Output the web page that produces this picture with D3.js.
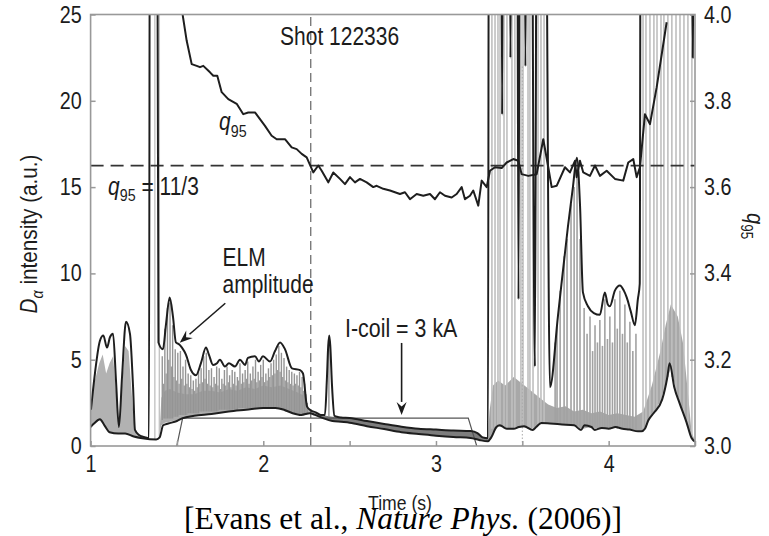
<!DOCTYPE html>
<html><head><meta charset="utf-8">
<script src="https://cdn.jsdelivr.net/npm/d3@7"></script>
<style>
body{margin:0;background:#fff;}
text{font-family:"Liberation Sans",Arial,sans-serif;fill:#1c1c1c;}
</style></head><body>
<svg id="c" width="769" height="536"></svg>
<script>
// ---- data (time in s, Dα in a.u., q95) ----
const xTicks = [1, 2, 3, 4];
const xMinorTicks = [1.5, 2.5, 3.5, 4.5];
const yTicks = [0, 5, 10, 15, 20, 25];
const qTicks = [3.0, 3.2, 3.4, 3.6, 3.8, 4.0];

// upper envelope of Dα ("ELM amplitude")
const envelope = [
 [1.002,2.1],[1.025,4.2],[1.054,6.1],[1.074,6.4],[1.095,5.7],[1.112,6.3],[1.130,6.5],[1.147,3.8],[1.164,1.1],
 [1.182,4.0],[1.205,7.2],[1.228,6.5],[1.246,3.4],[1.257,0.93],[1.280,0.64],[1.315,0.5],[1.338,0.45],
 [1.344,40],[1.384,40],[1.393,6.0],[1.419,5.6],[1.436,7.0],[1.458,8.6],[1.477,7.5],[1.494,6.0],[1.512,5.9],
 [1.529,5.7],[1.552,5.3],[1.581,4.4],[1.610,4.1],[1.639,4.8],[1.668,5.7],[1.685,5.3],[1.709,4.7],[1.732,4.8],
 [1.749,5.0],[1.778,4.6],[1.801,4.8],[1.836,4.6],[1.865,5.0],[1.894,4.7],[1.911,5.1],[1.952,5.2],[1.975,4.9],
 [1.998,5.2],[2.039,4.9],[2.068,5.5],[2.097,6.0],[2.126,5.6],[2.166,4.5],[2.213,4.4],[2.230,4.2],[2.253,2.3],
 [2.270,2.1],[2.304,1.95],[2.333,1.8],[2.357,1.8],[2.368,3.8],[2.376,5.8],[2.382,6.4],[2.388,5.8],[2.398,3.5],
 [2.412,1.75],[2.431,1.68],[2.45,1.65],[2.5,1.62],[2.6,1.45],[2.7,1.28],[2.8,1.12],[2.9,1.0],[3.0,0.95],
 [3.1,0.9],[3.2,0.87],[3.24,0.75],[3.27,0.5],[3.301,0.45],
 [3.307,40],[3.377,40],[3.383,19.2],[3.389,40],[3.424,40],[3.431,22.5],[3.440,40],[3.469,40],[3.478,8.5],
 [3.486,40],[3.510,40],[3.518,22],[3.527,40],[3.550,40],[3.573,4.6],[3.585,40],[3.631,40],[3.660,3.4],
 [3.706,7.5],[3.764,12.7],[3.793,15],[3.816,16.7],[3.834,14],[3.851,8.9],[3.880,8.1],[3.914,7.7],[3.949,7.6],
 [3.978,8.9],[3.995,8.2],[4.007,8.1],[4.036,9.0],[4.065,9.3],[4.088,9.0],[4.105,8.6],[4.128,7.8],[4.152,7.0],
 [4.169,8.5],[4.180,9.4],[4.186,40],[4.476,40],[4.487,22.5],[4.499,40]
];

// lower Dα baseline
const baseline = [
 [1.0,1.1],[1.02,1.3],[1.054,1.55],[1.08,1.2],[1.11,0.8],[1.16,0.72],[1.2,0.72],[1.25,0.55],[1.3,0.45],
 [1.38,0.38],[1.40,0.5],[1.42,1.2],[1.45,1.3],[1.5,1.45],[1.53,1.6],[1.6,1.75],[1.7,1.85],[1.8,2.0],
 [1.9,2.1],[2.0,2.2],[2.07,2.2],[2.12,2.1],[2.17,1.9],[2.22,1.8],[2.27,1.9],[2.3,1.8],[2.35,1.6],[2.4,1.45],
 [2.45,1.4],[2.5,1.35],[2.6,1.15],[2.7,0.98],[2.8,0.8],[2.9,0.7],[3.0,0.6],[3.1,0.52],[3.2,0.47],[3.25,0.35],
 [3.3,0.27],[3.32,0.5],[3.35,1.1],[3.37,1.2],[3.41,1.0],[3.45,1.0],[3.48,1.1],[3.51,1.15],[3.56,0.93],
 [3.58,1.1],[3.61,1.33],[3.66,1.3],[3.73,1.25],[3.80,1.2],[3.84,0.93],[3.86,1.2],[3.90,1.1],[3.92,0.93],
 [3.96,1.05],[4.00,1.0],[4.04,1.1],[4.08,1.0],[4.12,0.95],[4.17,0.85],[4.19,0.85],[4.21,1.0],[4.23,1.5],
 [4.26,1.9],[4.31,2.7],[4.34,4.0],[4.353,4.8],[4.38,3.4],[4.41,2.5],[4.45,1.4],[4.48,0.46],[4.50,0.25]
];

// dense gray ELM fill: [t, low, high]
const bandEarly = [
 [1.0,1.1,1.9],[1.02,1.3,3.6],[1.05,1.5,4.8],[1.07,1.3,5.3],[1.09,1.0,4.2],[1.11,0.8,4.8],[1.13,0.75,5.2],
 [1.15,0.75,2.8],[1.165,0.75,1.0],[1.18,0.75,3.2],[1.2,0.75,5.8],[1.22,0.7,5.5],[1.24,0.6,2.8],
 [1.255,0.5,0.9],[1.28,0.45,0.65],[1.33,0.4,0.5]
];
const bandMid = [
 [1.40,0.75,0.9],[1.41,1.2,2.8],[1.43,1.35,3.2],[1.46,1.4,3.3],[1.5,1.5,3.1],[1.55,1.6,3.0],[1.6,1.75,3.0],
 [1.65,1.8,3.2],[1.7,1.85,3.2],[1.75,1.95,3.1],[1.8,2.0,3.3],[1.85,2.05,3.2],[1.9,2.1,3.4],[1.95,2.15,3.3],
 [2.0,2.2,3.5],[2.05,2.2,3.4],[2.1,2.15,3.5],[2.15,2.0,3.3],[2.2,1.85,3.1],[2.24,1.8,2.9],[2.255,1.9,2.3],
 [2.27,1.9,2.1],[2.3,1.8,1.95]
];
const bandCoil = [
 [2.3,1.8,1.95],[2.333,1.65,1.8],[2.40,1.45,1.7],[2.45,1.4,1.65],[2.5,1.35,1.62],[2.6,1.15,1.45],
 [2.7,0.98,1.28],[2.8,0.8,1.12],[2.9,0.7,1.0],[3.0,0.6,0.95],[3.1,0.52,0.9],[3.2,0.47,0.87],
 [3.24,0.38,0.75],[3.27,0.3,0.5],[3.3,0.27,0.45]
];
const bandLate = [
 [3.30,0.3,0.4],[3.31,0.4,2.0],[3.33,0.7,3.5],[3.36,1.15,3.8],[3.40,1.05,3.5],[3.45,1.0,4.0],[3.50,1.1,3.6],
 [3.55,1.0,3.2],[3.60,1.25,2.8],[3.65,1.3,2.4],[3.70,1.28,2.2],[3.75,1.25,2.3],[3.80,1.2,2.0],[3.85,1.0,2.1],
 [3.90,1.1,1.9],[3.95,1.0,2.0],[4.00,1.0,1.8],[4.05,1.08,1.9],[4.10,0.98,1.8],[4.15,0.88,1.7],[4.20,0.9,2.0],
 [4.25,1.7,3.5],[4.30,2.6,5.5],[4.33,3.6,7.0],[4.36,4.5,8.2],[4.40,2.9,7.5],[4.43,1.9,6.0],[4.46,1.0,3.0],
 [4.48,0.5,0.8],[4.50,0.3,0.3]
];

// individual ELM spikes: [t, low, high]
const spikesEarly = [
 [1.372,0.4,40],[1.398,0.5,40],[1.415,1.5,5.2],[1.43,1.6,6.8],[1.445,1.6,8.0],[1.46,1.6,8.3],[1.475,1.6,7.0],
 [1.49,1.7,5.6],[1.505,1.7,5.4],[1.52,1.8,5.5],[1.535,1.8,4.6],[1.55,1.8,5.0],[1.565,1.9,4.2],[1.58,1.9,4.1],
 [1.595,1.9,3.8],[1.61,1.9,3.9],[1.625,1.9,4.3],[1.64,2.0,4.5],[1.655,2.0,5.2],[1.67,2.0,5.4],[1.685,2.0,4.4],
 [1.70,2.0,4.5],[1.715,2.0,4.0],[1.73,2.0,4.6],[1.745,2.1,4.5],[1.76,2.1,3.9],[1.775,2.1,4.4],[1.79,2.1,4.6],
 [1.805,2.1,4.1],[1.82,2.1,4.4],[1.835,2.1,4.3],[1.85,2.1,4.0],[1.865,2.2,4.8],[1.88,2.2,4.2],[1.895,2.2,4.4],
 [1.91,2.2,4.9],[1.925,2.2,4.2],[1.94,2.2,4.6],[1.955,2.2,5.0],[1.97,2.2,4.3],[1.985,2.2,4.7],[2.00,2.2,5.0],
 [2.015,2.2,4.2],[2.03,2.2,4.5],[2.045,2.2,4.8],[2.06,2.2,5.0],[2.075,2.2,5.3],[2.09,2.2,5.8],[2.105,2.1,5.4],
 [2.12,2.1,5.1],[2.135,2.0,4.6],[2.15,2.0,4.4],[2.165,1.9,4.3],[2.18,1.9,4.2],[2.195,1.9,4.1],[2.21,1.9,4.3],
 [2.225,1.8,4.0],[2.24,1.8,3.6],[2.255,1.9,2.5],[2.38,1.7,6.0]
];
const spikesEarlyMinor = [
 [1.4225,1.6,3.6],[1.4375,1.6,4.2],[1.4525,1.6,5.0],[1.4675,1.6,4.6],[1.4825,1.7,4.0],[1.4975,1.7,3.8],
 [1.5125,1.8,3.6],[1.5275,1.8,3.9],[1.5425,1.8,3.5],[1.5575,1.8,3.6],[1.5725,1.9,3.4],[1.5875,1.9,3.3],
 [1.6025,1.9,3.2],[1.6175,1.9,3.4],[1.6325,2.0,3.6],[1.6475,2.0,3.7],[1.6625,2.0,3.9],[1.6775,2.0,3.6],
 [1.6925,2.0,3.5],[1.7075,2.0,3.4],[1.7225,2.0,3.6],[1.7375,2.0,3.5],[1.7525,2.1,3.3],[1.7675,2.1,3.6],
 [1.7825,2.1,3.5],[1.7975,2.1,3.7],[1.8125,2.1,3.4],[1.8275,2.1,3.6],[1.8425,2.1,3.5],[1.8575,2.2,3.8],
 [1.8725,2.2,3.6],[1.8875,2.2,3.7],[1.9025,2.2,3.9],[1.9175,2.2,3.6],[1.9325,2.2,3.8],[1.9475,2.2,3.9],
 [1.9625,2.2,3.7],[1.9775,2.2,3.8],[1.9925,2.2,4.0],[2.0075,2.2,3.7],[2.0225,2.2,3.8],[2.0375,2.2,4.0],
 [2.0525,2.2,4.1],[2.0675,2.2,4.2],[2.0825,2.2,4.4],[2.0975,2.2,4.3],[2.1125,2.1,4.0],[2.1275,2.0,3.8],
 [2.1425,2.0,3.7],[2.1575,2.0,3.6],[2.1725,1.9,3.5],[2.1875,1.9,3.6],[2.2025,1.9,3.5],[2.2175,1.9,3.4],
 [2.2325,1.8,3.2],[2.2475,1.8,3.0]
];
const spikesLate = [
 [3.324,1.0,40],[3.342,1.1,40],[3.359,1.1,40],[3.371,1.1,40],[3.394,1.0,40],[3.411,1.0,40],[3.440,1.0,40],
 [3.457,1.0,40],[3.492,1.1,40],[3.504,1.1,40],[3.533,1.0,40],[3.544,1.0,40],[3.562,1.0,40],[3.591,1.2,40],
 [3.608,1.3,40],[3.626,1.3,40],
 [3.690,1.3,6.0],[3.701,1.3,7.0],[3.719,1.3,9.0],[3.742,1.3,11.0],[3.759,1.2,12.0],[3.782,1.2,14.0],
 [3.800,1.2,15.0],[3.817,1.2,16.0],[3.834,1.0,12.0],[3.858,1.2,8.0],[3.875,1.1,6.5],[3.892,1.1,7.5],
 [3.907,1.0,5.5],[3.921,1.0,7.0],[3.935,1.0,6.0],[3.949,1.0,7.3],[3.964,1.0,5.8],[3.978,1.0,8.5],
 [3.993,1.0,6.2],[4.007,1.0,7.5],[4.022,1.0,6.0],[4.036,1.1,8.5],[4.050,1.0,6.8],[4.065,1.0,9.0],
 [4.080,1.0,6.5],[4.094,1.0,8.2],[4.108,1.0,6.0],[4.123,1.0,7.2],[4.140,0.9,5.5],[4.158,0.9,6.5],
 [4.199,1.0,40],[4.216,1.2,40],[4.239,1.6,40],[4.262,1.9,40],[4.280,2.2,40],[4.303,2.6,40],[4.320,3.0,40],
 [4.343,4.0,40],[4.366,4.0,40],[4.390,3.0,40],[4.413,2.4,40],[4.436,1.8,40],[4.459,1.2,40],[4.482,0.5,40]
];

// I-coil current trace (drawn on Dα axis)
const icoil = [[1.499,0],[1.533,1.62],[3.187,1.62],[3.236,0]];

// q95 (right axis)
const q95 = [
 [1.525,4.02],[1.5565,3.939],[1.5854,3.885],[1.6144,3.881],[1.6335,3.878],[1.6526,3.881],[1.6914,3.866],
 [1.7105,3.858],[1.7336,3.858],[1.7591,3.820],[1.7973,3.804],[1.8460,3.793],[1.8842,3.769],[1.9131,3.773],
 [1.9519,3.773],[2.0098,3.742],[2.0486,3.719],[2.0776,3.711],[2.1256,3.711],[2.1644,3.692],[2.1934,3.688],
 [2.2224,3.677],[2.2513,3.669],[2.2895,3.634],[2.3185,3.650],[2.3382,3.638],[2.3764,3.611],[2.4053,3.634],
 [2.4441,3.619],[2.4731,3.607],[2.5020,3.623],[2.5310,3.611],[2.5599,3.619],[2.5987,3.611],[2.6369,3.600],
 [2.6566,3.603],[2.6948,3.596],[2.7336,3.592],[2.7915,3.584],[2.8205,3.588],[2.8494,3.572],[2.8882,3.584],
 [2.9264,3.580],[2.9653,3.584],[2.9942,3.572],[3.0232,3.588],[3.0521,3.580],[3.0909,3.576],[3.1198,3.584],
 [3.1488,3.600],[3.1679,3.572],[3.1969,3.580],[3.2160,3.592],[3.2450,3.557],[3.2646,3.615],[3.2936,3.600],
 [3.3127,3.638],[3.3416,3.646],[3.3804,3.644],[3.4094,3.657],[3.4476,3.665],[3.4766,3.661],[3.4962,3.630],
 [3.5344,3.626],[3.5831,3.630],[3.6213,3.711],[3.6503,3.646],[3.6700,3.600],[3.6989,3.603],[3.7470,3.646],
 [3.7759,3.634],[3.8049,3.661],[3.8147,3.623],[3.8338,3.661],[3.8529,3.634],[3.8917,3.626],[3.9207,3.650],
 [3.9496,3.626],[3.9884,3.638],[4.0365,3.619],[4.0845,3.615],[4.1135,3.657],[4.1425,3.665],[4.1621,3.623],
 [4.1813,3.646],[4.2102,3.769],[4.2392,3.746],[4.2779,3.831],[4.3358,3.982]
];

const qRef = 3.65;          // q95 = 11/3 reference line
const tMarker = 2.275;      // vertical dashed marker
const tDotted = 3.5;

// annotations in data coordinates (t, Dα)
const labels = {
  shot: [2.097, 23.23, "Shot 122336"],
  elm1: [1.764, 10.40, "ELM"],
  elm2: [1.764, 8.86, "amplitude"],
  icoil: [2.473, 6.32, "I-coil = 3 kA"],
  qlab: [1.744, 18.31],
  qref: [1.101, 14.54]
};
const arrowELM = [[1.780, 8.27], [1.516, 5.98]];
const arrowCoil = [[2.801, 5.97], [2.801, 1.80]];

// ---- drawing ----
const SQ = 0.84; // horizontal condensing of the sans font
const svg = d3.select("#c");
const L = 90.6, R = 695, T = 14.5, B = 446;
const x = d3.scaleLinear().domain([1, 4.5]).range([L, R]);
const y = d3.scaleLinear().domain([0, 25]).range([B, T]);
const yq = d3.scaleLinear().domain([3, 4]).range([B, T]);

svg.append("defs").append("clipPath").attr("id", "clip")
  .append("rect").attr("x", L).attr("y", T).attr("width", R - L).attr("height", B - T);

const g = svg.append("g").attr("clip-path", "url(#clip)");

const area = d3.area().x(d => x(d[0])).y0(d => y(d[1])).y1(d => y(d[2]));
[[bandEarly, "#b2b2b2"], [bandMid, "#adadad"], [bandCoil, "#7d7d7d"], [bandLate, "#a8a8a8"]]
  .forEach(([d, c]) => g.append("path").datum(d).attr("d", area).attr("fill", c));

function spikes(data, cls, colorTall, colorShort, w) {
  g.selectAll("line." + cls).data(data).join("line").attr("class", cls)
    .attr("x1", d => x(d[0])).attr("x2", d => x(d[0]))
    .attr("y1", d => y(d[1])).attr("y2", d => y(d[2]))
    .attr("stroke", d => d[2] > 30 ? colorTall : colorShort).attr("stroke-width", w);
}
spikes(spikesEarlyMinor, "sm", "#bbb", "#9c9c9c", 1.3);
spikes(spikesEarly, "se", "#c4c4c4", "#949494", 1.4);
spikes(spikesLate, "sl", "#bfbfbf", "#a2a2a2", 1.6);

// dotted faint marker
g.append("line").attr("x1", x(tDotted)).attr("x2", x(tDotted)).attr("y1", y(0)).attr("y2", y(22))
  .attr("stroke", "#aaa").attr("stroke-width", 1).attr("stroke-dasharray", "1.5,2");

const line = d3.line().x(d => x(d[0])).y(d => y(d[1]));
const smooth = d3.line().x(d => x(d[0])).y(d => y(d[1])).curve(d3.curveMonotoneX);
g.append("path").datum(icoil).attr("d", line).attr("fill", "none").attr("stroke", "#555").attr("stroke-width", 1.2);

// dashed reference lines
g.append("line").attr("x1", x(tMarker)).attr("x2", x(tMarker)).attr("y1", B).attr("y2", T)
  .attr("stroke", "#555").attr("stroke-width", 1.1).attr("stroke-dasharray", "9,5");
g.append("line").attr("x1", L).attr("x2", R).attr("y1", yq(qRef)).attr("y2", yq(qRef))
  .attr("stroke", "#333").attr("stroke-width", 1.8).attr("stroke-dasharray", "13,7");

g.append("path").datum(baseline).attr("d", smooth).attr("fill", "none").attr("stroke", "#1e1e1e")
  .attr("stroke-width", 2).attr("stroke-linejoin", "round");
g.append("path").datum(envelope).attr("d", smooth).attr("fill", "none").attr("stroke", "#1e1e1e")
  .attr("stroke-width", 2).attr("stroke-linejoin", "round");

const qline = d3.line().x(d => x(d[0])).y(d => yq(d[1]));
g.append("path").datum(q95).attr("d", qline).attr("fill", "none").attr("stroke", "#1e1e1e")
  .attr("stroke-width", 2).attr("stroke-linejoin", "round");

// frame
svg.append("rect").attr("x", L).attr("y", T).attr("width", R - L).attr("height", B - T)
  .attr("fill", "none").attr("stroke", "#999").attr("stroke-width", 1.6);

// axes
const tickStyle = sel => {
  sel.select(".domain").remove();
  sel.selectAll(".tick line").attr("stroke", "#999").attr("stroke-width", 1.5);
  sel.selectAll(".tick text").attr("font-size", 23.5).attr("fill", "#1c1c1c")
     .attr("transform", `scale(${SQ},1)`);
};
svg.append("g").attr("transform", `translate(${L},0)`)
  .call(d3.axisLeft(y).tickValues(yTicks).tickSizeInner(-5).tickSizeOuter(0).tickPadding(10.6).tickFormat(d3.format("d")))
  .call(tickStyle);
svg.append("g").attr("transform", `translate(${R},0)`)
  .call(d3.axisRight(yq).tickValues(qTicks).tickSizeInner(-5).tickSizeOuter(0).tickPadding(10.7).tickFormat(d3.format(".1f")))
  .call(tickStyle);
svg.append("g").attr("transform", `translate(0,${B})`)
  .call(d3.axisBottom(x).tickValues(xTicks).tickSizeInner(-5).tickSizeOuter(0).tickPadding(9).tickFormat(d3.format("d")))
  .call(tickStyle);
svg.append("g").attr("transform", `translate(0,${B})`)
  .call(d3.axisBottom(x).tickValues(xMinorTicks).tickSizeInner(-5).tickSizeOuter(0).tickFormat(""))
  .call(tickStyle);

// helper: condensed text at pixel position
function ctext(px, py, size, transformExtra = "", sx = SQ) {
  return svg.append("text")
    .attr("transform", `translate(${px},${py}) ${transformExtra} scale(${sx},1)`)
    .attr("font-size", size);
}

// axis titles
const yl = ctext(37, 234, 23, "rotate(-90)", 0.9).attr("text-anchor", "middle");
yl.append("tspan").attr("font-style", "italic").text("D");
yl.append("tspan").attr("font-style", "italic").attr("font-size", 16).attr("dy", 6).text("α");
yl.append("tspan").attr("dy", -6).text(" intensity (a.u.)");

const ql = ctext(747, 213, 24, "rotate(90)").attr("text-anchor", "start");
ql.append("tspan").attr("font-style", "italic").text("q");
ql.append("tspan").attr("font-size", 16).attr("dy", 6).text("95");

ctext(400, 510, 21).attr("text-anchor", "middle").text("Time (s)");

const cit = svg.append("text").attr("x", 403).attr("y", 529).attr("text-anchor", "middle")
  .attr("font-size", 31.5).style("font-family", '"Liberation Serif","Times New Roman",serif').style("fill", "#000");
cit.append("tspan").text("[Evans et al., ");
cit.append("tspan").attr("font-style", "italic").text("Nature Phys.");
cit.append("tspan").text(" (2006)]");

// annotations
for (const [k, size] of [["shot", 25], ["elm1", 25], ["elm2", 25], ["icoil", 25.5]]) {
  const [t, v, s] = labels[k];
  ctext(x(t), y(v), size).text(s);
}
{
  const [t, v] = labels.qlab;
  const tx = ctext(x(t), y(v), 25);
  tx.append("tspan").attr("font-style", "italic").text("q");
  tx.append("tspan").attr("font-size", 17).attr("dy", 7).text("95");
}
{
  const [t, v] = labels.qref;
  const tx = ctext(x(t), y(v), 25);
  tx.append("tspan").attr("font-style", "italic").text("q");
  tx.append("tspan").attr("font-size", 17).attr("dy", 6).text("95");
  tx.append("tspan").attr("dy", -6).text(" = 11/3");
}

function arrow(pts) {
  const [p0, p1] = pts.map(d => [x(d[0]), y(d[1])]);
  const ang = Math.atan2(p1[1] - p0[1], p1[0] - p0[0]);
  const hl = 13, hw = 5;
  const bx = p1[0] - hl * Math.cos(ang), by = p1[1] - hl * Math.sin(ang);
  svg.append("line").attr("x1", p0[0]).attr("y1", p0[1]).attr("x2", bx).attr("y2", by)
    .attr("stroke", "#1c1c1c").attr("stroke-width", 1.6);
  const px = -Math.sin(ang) * hw, py = Math.cos(ang) * hw;
  svg.append("path").attr("d", `M${p1[0]},${p1[1]}L${bx + px},${by + py}L${bx + 0.35*hl*Math.cos(ang)},${by + 0.35*hl*Math.sin(ang)}L${bx - px},${by - py}Z`)
    .attr("fill", "#1c1c1c");
}
arrow(arrowELM);
arrow(arrowCoil);
</script></body></html>
